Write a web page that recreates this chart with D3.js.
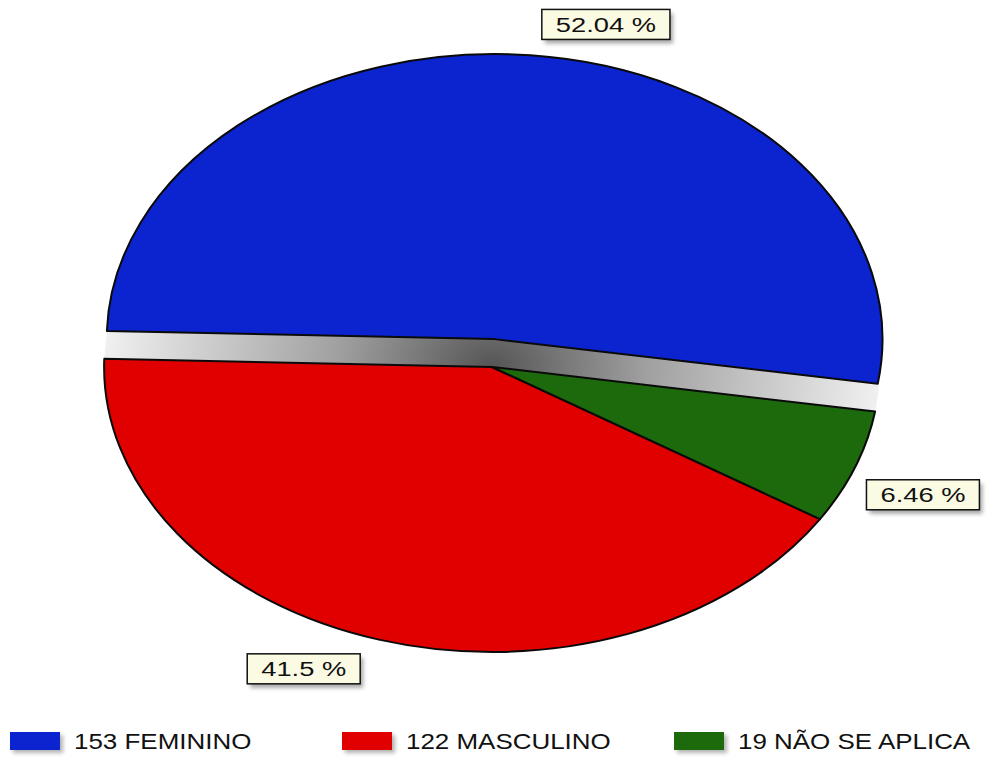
<!DOCTYPE html>
<html>
<head>
<meta charset="utf-8">
<script src="https://cdn.jsdelivr.net/npm/d3@7"></script>
<style>
  html, body { margin: 0; padding: 0; background: #ffffff; }
  svg { display: block; }
  text { font-family: "Liberation Sans", Arial, sans-serif; }
</style>
</head>
<body>
<svg id="chart" width="1003" height="765"></svg>
<script>
// ---- data ----
const categories = ["FEMININO", "MASCULINO", "NÃO SE APLICA"];
const counts = [153, 122, 19];
const percentLabels = ["52.04 %", "41.5 %", "6.46 %"];
const sliceColors = ["#0b24cf", "#e00000", "#1d6a0d"];

// ---- layout ----
const W = 1003, H = 765;
const cx = 492, cy = 367;
const R = 285;            // radius in circle space
const stretchX = 1.361;   // pie is stretched horizontally
const explode = 28;
const startDeg = 99;      // slices run counter-clockwise from here
const textStretch = 1.3;

const svg = d3.select("#chart");
const defs = svg.append("defs");

const grad = defs.append("radialGradient")
  .attr("id", "gapGrad")
  .attr("gradientUnits", "userSpaceOnUse")
  .attr("cx", 0).attr("cy", 0).attr("r", R);
grad.append("stop").attr("offset", "0%").attr("stop-color", "#555555");
grad.append("stop").attr("offset", "40%").attr("stop-color", "#a0a0a0");
grad.append("stop").attr("offset", "100%").attr("stop-color", "#f0f0f0");

const blur = defs.append("filter").attr("id", "shadow")
  .attr("x", "-20%").attr("y", "-20%").attr("width", "150%").attr("height", "170%");
blur.append("feGaussianBlur").attr("stdDeviation", 2);

const pie = d3.pie().sort(null).value(d => d)
  .startAngle(startDeg * Math.PI / 180)
  .endAngle(startDeg * Math.PI / 180 - 2 * Math.PI);
const arcs = pie(counts);
const arc = d3.arc().innerRadius(0).outerRadius(R);

const g = svg.append("g")
  .attr("transform", `translate(${cx},${cy}) scale(${stretchX},1)`);

// gap (side wall) under the exploded slice
g.append("path")
  .attr("d", arc(arcs[0]))
  .attr("fill", "url(#gapGrad)");

function offset(i) {
  if (i !== 0) return [0, 0];
  const mid = (arcs[i].startAngle + arcs[i].endAngle) / 2;
  return [Math.sin(mid) * explode / stretchX, -Math.cos(mid) * explode];
}

const order = [1, 2, 0];
g.selectAll("path.slice")
  .data(order.map(i => ({ i, a: arcs[i] })))
  .enter().append("path")
  .attr("class", "slice")
  .attr("d", d => arc(d.a))
  .attr("transform", d => { const o = offset(d.i); return `translate(${o[0]},${o[1]})`; })
  .attr("fill", d => sliceColors[d.i])
  .attr("stroke", "#0a0a0a")
  .attr("stroke-width", 2)
  .attr("stroke-linejoin", "round")
  .attr("vector-effect", "non-scaling-stroke");

// ---- percentage labels ----
const labelNudge = [[73, -13], [-68, 12], [45, 21]];
const fontSize = 21;

arcs.forEach((a, i) => {
  const mid = (a.startAngle + a.endAngle) / 2;
  const o = offset(i);
  const px = cx + (Math.sin(mid) * (R + 18) + o[0]) * stretchX;
  const py = cy - Math.cos(mid) * (R + 18) + o[1];
  const lx = px + labelNudge[i][0];
  const ly = py + labelNudge[i][1];

  const lab = svg.append("g").attr("transform", `translate(${lx},${ly})`);
  const t = lab.append("text")
    .attr("text-anchor", "middle")
    .attr("font-size", fontSize)
    .attr("fill", "#111")
    .attr("transform", `scale(${textStretch},1)`)
    .attr("y", 7.5)
    .text(percentLabels[i]);
  const bw = t.node().getComputedTextLength() * textStretch + 28;
  const bh = 30;
  lab.insert("rect", "text")
    .attr("x", -bw / 2 + 3).attr("y", -bh / 2 + 4)
    .attr("width", bw).attr("height", bh)
    .attr("fill", "#000").attr("opacity", 0.35)
    .attr("filter", "url(#shadow)");
  lab.insert("rect", "text")
    .attr("x", -bw / 2).attr("y", -bh / 2)
    .attr("width", bw).attr("height", bh)
    .attr("fill", "#fbfbe4")
    .attr("stroke", "#111").attr("stroke-width", 1.5);
});

// ---- legend ----
const legendX = d3.scaleBand().domain(categories).range([10, 10 + 3 * 332]);
const legendY = 732;
const leg = svg.selectAll("g.legend")
  .data(categories)
  .enter().append("g")
  .attr("class", "legend")
  .attr("transform", d => `translate(${legendX(d)},${legendY})`);
leg.append("rect")
  .attr("x", 3).attr("y", 3).attr("width", 50).attr("height", 18)
  .attr("fill", "#000").attr("opacity", 0.3).attr("filter", "url(#shadow)");
leg.append("rect")
  .attr("width", 50).attr("height", 18)
  .attr("fill", (d, i) => sliceColors[i]);
leg.append("text")
  .attr("transform", `translate(64,17) scale(1.18,1)`)
  .attr("font-size", 22)
  .attr("fill", "#111")
  .text((d, i) => `${counts[i]} ${d}`);
</script>
</body>
</html>
